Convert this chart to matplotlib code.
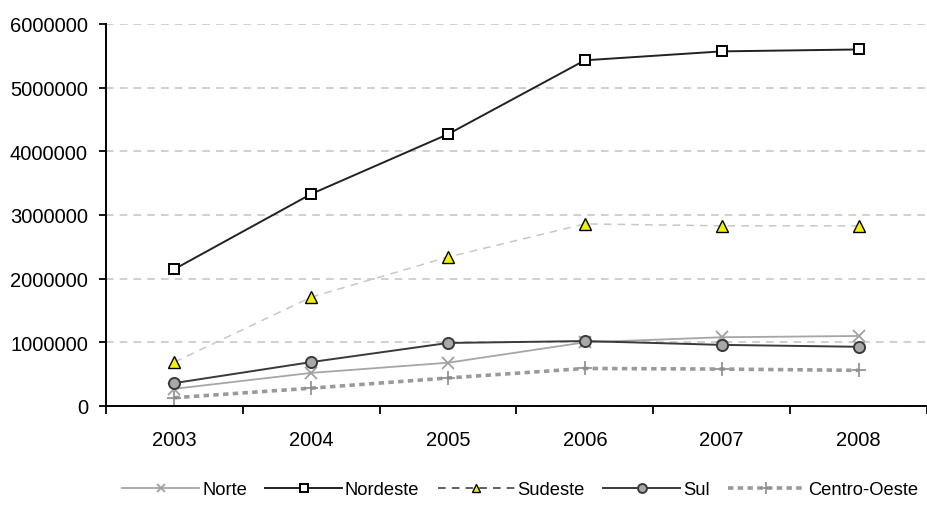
import numpy as np
import matplotlib
matplotlib.use('Agg')
from matplotlib import pyplot as plt

plt.rcParams['font.family'] = ['Liberation Sans', 'DejaVu Sans']

anos = ['2003', '2004', '2005', '2006', '2007', '2008']
norte = [270000, 520000, 680000, 1000000, 1080000, 1100000]
nordeste = [2150000, 3330000, 4270000, 5430000, 5570000, 5600000]
sudeste = [690000, 1710000, 2340000, 2860000, 2830000, 2830000]
sul = [360000, 690000, 990000, 1020000, 960000, 930000]
centro_oeste = [130000, 280000, 440000, 590000, 580000, 560000]

x = np.arange(len(anos))

fig = plt.figure(figsize=(9.27, 5.06), dpi=100)
ax = fig.add_axes([106/927, 99/506, 1 - 106/927, (407 - 25)/506])

## series ##
ax.plot(x, norte, color='#a6a6a6', lw=1.3, marker='x', ms=8, mew=1.3,
        mec='#a0a0a0', label='Norte', zorder=3)
ax.plot(x, nordeste, color='#222222', lw=1.4, marker='s', ms=7.5, mew=1.4,
        mfc='white', mec='black', label='Nordeste', zorder=5)
ax.plot(x, sudeste, color='#c8c8c8', lw=1.1, ls=(0, (5, 4)), marker='^', ms=8,
        mew=1.0, mfc='#f2f200', mec='black', label='Sudeste', zorder=4)
ax.plot(x, sul, color='#3a3a3a', lw=1.4, marker='o', ms=8, mew=1.4,
        mfc='#a8a8a8', mec='#3a3a3a', label='Sul', zorder=4)
ax.plot(x, centro_oeste, color='#9a9a9a', lw=2.6, ls=(0, (1.5, 1.2)),
        marker='+', ms=10, mew=1.2, mec='#8c8c8c', label='Centro-Oeste', zorder=3)

## axes ##
ax.set_xlim(-0.5, 5.48)
ax.set_ylim(0, 6000000)
ax.set_yticks(np.arange(0, 6000001, 1000000))
ax.set_yticklabels([str(v) for v in range(0, 6000001, 1000000)])
ax.yaxis.grid(True, color='#c4c4c4', ls=(0, (5, 4)), lw=1.1)
ax.set_axisbelow(True)

ax.set_xticks(np.arange(-0.5, 5.6, 1.0))
ax.set_xticklabels([])
ax.set_xticks(x, minor=True)
ax.set_xticklabels(anos, minor=True)
ax.tick_params(axis='x', which='major', direction='out', length=6, width=1.3)
ax.tick_params(axis='x', which='minor', length=0, pad=17, labelsize=14.5)
ax.tick_params(axis='y', direction='out', length=5, width=1.3, pad=8, labelsize=14.5)

for s in ['top', 'right']:
    ax.spines[s].set_visible(False)
for s in ['left', 'bottom']:
    ax.spines[s].set_linewidth(1.4)
ax.spines['bottom'].set_zorder(6)

leg = fig.legend(loc='center', bbox_to_anchor=(0.561, 0.03), ncol=5, frameon=False,
                 fontsize=13.2, handlelength=4.2, handletextpad=0.15, columnspacing=1.0,
                 markerscale=0.8)
# darker dashes for the Sudeste key
leg.get_lines()[2].set_color('#333333')

fig.savefig('out.png', dpi=100)
